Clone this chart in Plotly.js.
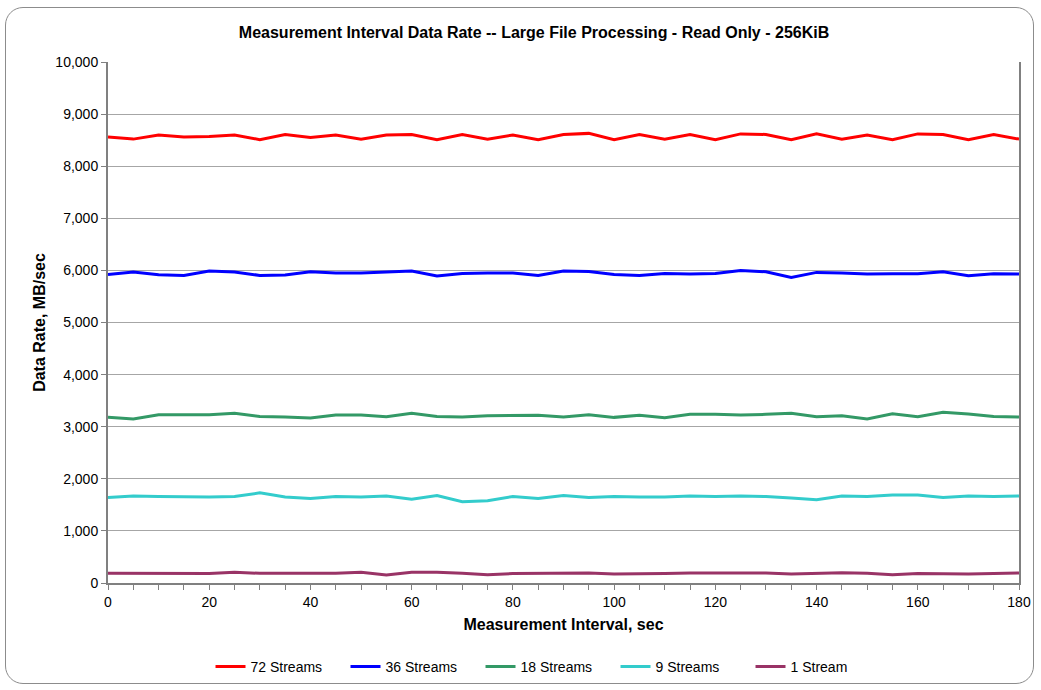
<!DOCTYPE html>
<html>
<head>
<meta charset="utf-8">
<script src="https://cdn.plot.ly/plotly-3.0.1.min.js"></script>
<style>
  html, body { margin: 0; padding: 0; background: #ffffff; }
  #wrap { position: relative; width: 1041px; height: 690px; }
  #chart { position: absolute; left: 0; top: 0; width: 1041px; height: 690px; }
  #frame { position: absolute; left: 5px; top: 7px; width: 1027px; height: 675px;
           border: 1px solid #8c8c8c; border-radius: 18px; pointer-events: none; }
</style>
</head>
<body>
<div id="wrap">
  <div id="chart"></div>
  <div id="frame"></div>
</div>
<script>
const intervals = [0,5,10,15,20,25,30,35,40,45,50,55,60,65,70,75,80,85,90,95,100,105,110,115,120,125,130,135,140,145,150,155,160,165,170,175,180];

const streams72 = [8560,8520,8600,8560,8570,8600,8510,8610,8550,8600,8520,8600,8610,8510,8610,8520,8600,8510,8610,8630,8510,8610,8520,8610,8510,8620,8610,8510,8620,8520,8600,8510,8620,8610,8510,8610,8520];
const streams36 = [5923,5968,5917,5904,5987,5968,5904,5910,5974,5949,5949,5968,5987,5891,5942,5949,5949,5904,5987,5981,5923,5904,5942,5930,5942,6000,5974,5866,5962,5949,5930,5936,5936,5974,5898,5936,5930];
const streams18 = [3179,3147,3230,3237,3230,3256,3198,3186,3166,3224,3224,3192,3256,3198,3186,3211,3218,3218,3186,3230,3179,3218,3173,3237,3237,3224,3237,3256,3192,3211,3147,3250,3192,3275,3243,3198,3186];
const streams9  = [1640,1670,1660,1650,1650,1660,1730,1650,1620,1660,1650,1670,1610,1680,1560,1580,1660,1620,1680,1640,1660,1650,1650,1670,1660,1670,1660,1630,1600,1670,1660,1690,1690,1640,1670,1660,1670];
const streams1  = [186,186,192,192,180,205,186,186,186,186,205,154,205,205,186,160,180,186,192,192,173,173,180,192,192,199,192,173,192,199,186,160,180,173,173,180,192];

const seriesNames = ["72 Streams","36 Streams","18 Streams","9 Streams","1 Stream"];
const seriesValues = [streams72, streams36, streams18, streams9, streams1];
const seriesColors = ["#ff0000","#0000ff","#339966","#33cccc","#993366"];

const traces = seriesNames.map((name, i) => ({
  x: intervals,
  y: seriesValues[i],
  name: name,
  type: "scatter",
  mode: "lines",
  line: { color: seriesColors[i], width: 3 }
}));

const FONT = "Liberation Sans, Arial, sans-serif";

const layout = {
  width: 1041,
  height: 690,
  paper_bgcolor: "#ffffff",
  plot_bgcolor: "#ffffff",
  margin: { l: 108, r: 22, t: 62, b: 107, autoexpand: false },
  font: { family: FONT, size: 14, color: "#000000" },
  title: {
    text: "<b>Measurement Interval Data Rate -- Large File Processing - Read Only - 256KiB</b>",
    font: { family: FONT, size: 16, color: "#000000" },
    xref: "container", x: 0.513, xanchor: "center",
    yref: "container", y: 1 - 32/690, yanchor: "middle"
  },
  xaxis: {
    range: [0, 180],
    dtick: 20,
    tick0: 0,
    ticks: "outside",
    ticklen: 5,
    tickcolor: "#808080",
    showline: true,
    linecolor: "#808080",
    linewidth: 2,
    showgrid: false,
    zeroline: false,
    minor: { dtick: 5, ticks: "outside", ticklen: 5, tickcolor: "#808080", showgrid: false },
    tickfont: { family: FONT, size: 14, color: "#000000" },
    title: { text: "<b>Measurement Interval, sec</b>", font: { family: FONT, size: 16, color: "#000000" }, standoff: 10 }
  },
  yaxis: {
    range: [0, 10000],
    dtick: 1000,
    tickformat: ",d",
    ticks: "outside",
    ticklen: 5,
    tickcolor: "#808080",
    showline: true,
    linecolor: "#808080",
    linewidth: 2,
    mirror: true,
    showgrid: true,
    gridcolor: "#a6a6a6",
    gridwidth: 1,
    zeroline: false,
    tickfont: { family: FONT, size: 14, color: "#000000" },
    title: { text: "<b>Data Rate, MB/sec</b>", font: { family: FONT, size: 16, color: "#000000" }, standoff: 6 }
  },
  showlegend: true,
  legend: {
    orientation: "h",
    xref: "paper", x: 0.483, xanchor: "center",
    yref: "paper", y: -0.161, yanchor: "middle",
    entrywidth: 90,
    entrywidthmode: "pixels",
    font: { family: FONT, size: 14, color: "#000000" },
    bgcolor: "rgba(0,0,0,0)"
  }
};

Plotly.newPlot("chart", traces, layout, { staticPlot: true, displayModeBar: false });
</script>
</body>
</html>
